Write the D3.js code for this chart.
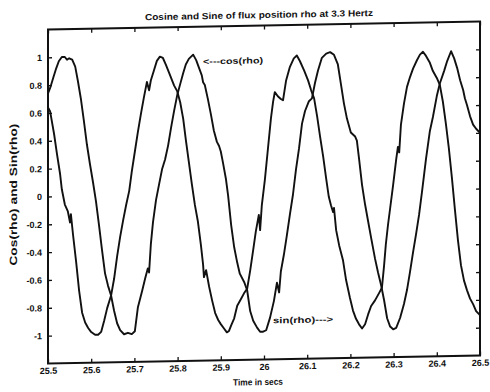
<!DOCTYPE html>
<html>
<head>
<meta charset="utf-8">
<script src="https://cdn.jsdelivr.net/npm/d3@7"></script>
<style>
body { margin: 0; background: #fff; }
text { font-family: "Liberation Sans", Arial, sans-serif; font-weight: bold; fill: #111; }
</style>
</head>
<body>
<div id="chart-area"></div>
<script>
// values
var cosTime = [25.500, 25.505, 25.512, 25.519, 25.525, 25.532, 25.539, 25.544, 25.549, 25.556,
    25.563, 25.569, 25.576, 25.583, 25.590, 25.597, 25.604, 25.611, 25.618, 25.625,
    25.632, 25.639, 25.646, 25.653, 25.660, 25.667, 25.676, 25.685, 25.694, 25.701,
    25.708, 25.718, 25.725, 25.731, 25.734, 25.738, 25.743, 25.750, 25.757, 25.764,
    25.771, 25.778, 25.785, 25.792, 25.799, 25.806, 25.813, 25.819, 25.826, 25.836,
    25.843, 25.850, 25.856, 25.859, 25.863, 25.870, 25.877, 25.884, 25.891, 25.896,
    25.900, 25.905, 25.912, 25.917, 25.924, 25.931, 25.938, 25.944, 25.954, 25.961,
    25.968, 25.975, 25.984, 25.991, 25.998, 26.005, 26.014, 26.023, 26.030, 26.035,
    26.039, 26.046, 26.053, 26.060, 26.067, 26.074, 26.081, 26.088, 26.095, 26.104,
    26.111, 26.118, 26.125, 26.134, 26.144, 26.153, 26.162, 26.171, 26.178, 26.185,
    26.192, 26.201, 26.211, 26.215, 26.220, 26.227, 26.234, 26.241, 26.248, 26.257,
    26.264, 26.271, 26.278, 26.285, 26.292, 26.299, 26.306, 26.315, 26.324, 26.331,
    26.338, 26.345, 26.352, 26.359, 26.366, 26.375, 26.384, 26.391, 26.400, 26.407,
    26.417, 26.424, 26.433, 26.440, 26.447, 26.454, 26.461, 26.465, 26.470, 26.477,
    26.484, 26.491, 26.500];
var cosValue = [0.74, 0.78, 0.85, 0.92, 0.97, 1.00, 1.00, 0.98, 0.99, 0.98,
    0.93, 0.83, 0.70, 0.54, 0.37, 0.23, 0.10, -0.04, -0.21, -0.39,
    -0.56, -0.65, -0.72, -0.83, -0.92, -0.97, -1.00, -0.99, -1.00, -0.98,
    -0.81, -0.69, -0.60, -0.53, -0.56, -0.36, -0.20, -0.04, 0.07, 0.18,
    0.25, 0.35, 0.48, 0.60, 0.71, 0.79, 0.87, 0.93, 0.97, 1.00,
    0.96, 0.90, 0.85, 0.80, 0.78, 0.68, 0.57, 0.45, 0.37, 0.34,
    0.30, 0.22, 0.10, -0.02, -0.23, -0.39, -0.50, -0.58, -0.64, -0.70,
    -0.85, -0.92, -0.97, -1.00, -1.00, -0.99, -0.90, -0.78, -0.65, -0.72,
    -0.57, -0.45, -0.31, -0.16, -0.02, 0.16, 0.31, 0.49, 0.58, 0.65,
    0.67, 0.78, 0.87, 0.96, 0.99, 1.00, 0.98, 0.91, 0.77, 0.63,
    0.52, 0.42, 0.39, 0.36, 0.23, 0.04, -0.10, -0.22, -0.34, -0.49,
    -0.59, -0.68, -0.79, -0.92, -0.98, -1.00, -0.99, -0.92, -0.82, -0.72,
    -0.59, -0.45, -0.32, -0.18, -0.01, 0.22, 0.42, 0.52, 0.67, 0.76,
    0.85, 0.92, 0.99, 0.94, 0.87, 0.78, 0.71, 0.65, 0.60, 0.52,
    0.46, 0.43, 0.40];

var sinTime = [25.500, 25.505, 25.514, 25.521, 25.528, 25.532, 25.539, 25.546, 25.551, 25.553,
    25.558, 25.565, 25.572, 25.579, 25.586, 25.593, 25.600, 25.609, 25.616, 25.623,
    25.630, 25.637, 25.646, 25.653, 25.660, 25.667, 25.674, 25.681, 25.688, 25.694,
    25.701, 25.708, 25.715, 25.722, 25.729, 25.734, 25.738, 25.745, 25.752, 25.759,
    25.766, 25.773, 25.782, 25.792, 25.799, 25.806, 25.813, 25.819, 25.826, 25.833,
    25.840, 25.847, 25.854, 25.859, 25.861, 25.866, 25.873, 25.880, 25.887, 25.894,
    25.900, 25.907, 25.914, 25.919, 25.924, 25.931, 25.938, 25.947, 25.954, 25.961,
    25.968, 25.975, 25.981, 25.988, 25.991, 25.995, 26.002, 26.009, 26.016, 26.021,
    26.025, 26.032, 26.039, 26.044, 26.051, 26.060, 26.069, 26.076, 26.083, 26.093,
    26.102, 26.109, 26.116, 26.123, 26.130, 26.137, 26.144, 26.150, 26.155, 26.160,
    26.162, 26.167, 26.174, 26.183, 26.190, 26.199, 26.206, 26.213, 26.220, 26.227,
    26.234, 26.241, 26.248, 26.257, 26.266, 26.273, 26.278, 26.282, 26.287, 26.292,
    26.299, 26.306, 26.310, 26.313, 26.317, 26.324, 26.331, 26.338, 26.345, 26.354,
    26.361, 26.368, 26.375, 26.384, 26.391, 26.400, 26.407, 26.414, 26.421, 26.428,
    26.435, 26.442, 26.449, 26.456, 26.463, 26.470, 26.477, 26.484, 26.491, 26.500];
var sinValue = [0.64, 0.61, 0.45, 0.30, 0.16, 0.05, -0.06, -0.11, -0.19, -0.13,
    -0.28, -0.47, -0.68, -0.84, -0.91, -0.95, -0.98, -1.00, -1.00, -0.98,
    -0.90, -0.81, -0.72, -0.60, -0.44, -0.30, -0.18, -0.07, 0.03, 0.17,
    0.31, 0.45, 0.58, 0.70, 0.81, 0.75, 0.82, 0.89, 0.96, 0.99,
    0.98, 0.93, 0.86, 0.78, 0.74, 0.66, 0.54, 0.39, 0.23, 0.07,
    -0.08, -0.20, -0.37, -0.51, -0.60, -0.55, -0.67, -0.77, -0.86, -0.91,
    -0.94, -0.97, -1.00, -0.99, -0.95, -0.90, -0.81, -0.76, -0.72, -0.69,
    -0.56, -0.41, -0.28, -0.16, -0.27, -0.09, 0.09, 0.31, 0.53, 0.65,
    0.72, 0.69, 0.67, 0.66, 0.80, 0.90, 0.96, 0.98, 0.94, 0.87,
    0.80, 0.73, 0.67, 0.54, 0.39, 0.25, 0.09, -0.04, -0.10, -0.15,
    -0.12, -0.28, -0.39, -0.50, -0.64, -0.77, -0.86, -0.92, -0.96, -0.99,
    -0.96, -0.89, -0.83, -0.79, -0.74, -0.70, -0.54, -0.39, -0.25, -0.13,
    0.04, 0.22, 0.31, 0.27, 0.47, 0.62, 0.74, 0.81, 0.87, 0.93,
    0.97, 0.99, 0.96, 0.91, 0.85, 0.80, 0.75, 0.63, 0.47, 0.29,
    0.08, -0.15, -0.37, -0.55, -0.66, -0.73, -0.79, -0.83, -0.88, -0.91];

var xTicks = [25.5, 25.6, 25.7, 25.8, 25.9, 26, 26.1, 26.2, 26.3, 26.4, 26.5];
var xTickLabels = ["25.5", "25.6", "25.7", "25.8", "25.9", "26", "26.1", "26.2", "26.3", "26.4", "26.5"];
var yTicks = [-1, -0.8, -0.6, -0.4, -0.2, 0, 0.2, 0.4, 0.6, 0.8, 1];
var yTickLabels = ["-1", "-0.8", "-0.6", "-0.4", "-0.2", "0", "0.2", "0.4", "0.6", "0.8", "1"];

var margin = { left: 48, right: 10, top: 25.5, bottom: 32.5 };
var width = 490 - margin.left - margin.right;
var height = 392 - margin.top - margin.bottom;

// the scan is a little skewed: right side sits higher
var root = d3.select("#chart-area")
    .append("svg")
    .attr("width", 490)
    .attr("height", 392)
    .append("g")
    .attr("transform", "translate(0," + (0.0185 * 264) + ") skewY(-1.06)");

var svg = root.append("g")
    .attr("transform", "translate(" + margin.left + ", " + margin.top + ")");

var x = d3.scaleLinear().domain([25.5, 26.5]).range([0, width]);
var y = d3.scaleLinear().domain([-1.2, 1.2]).range([height, 0]);

var xAxisCall = d3.axisBottom(x).tickValues(xTicks)
    .tickFormat((d, i) => xTickLabels[i]).tickSizeInner(-4).tickSizeOuter(0).tickPadding(4);
var yAxisCall = d3.axisLeft(y).tickValues(yTicks)
    .tickFormat((d, i) => yTickLabels[i]).tickSizeInner(-4).tickSizeOuter(0).tickPadding(6);

var xAxisGroup = svg.append("g")
    .attr("transform", "translate(0, " + height + ")")
    .call(xAxisCall);
var yAxisGroup = svg.append("g").call(yAxisCall);

svg.append("g").call(d3.axisTop(x).tickValues(xTicks).tickFormat("").tickSizeInner(-4).tickSizeOuter(0));
svg.append("g").attr("transform", "translate(" + width + ",0)")
    .call(d3.axisRight(y).tickValues(yTicks).tickFormat("").tickSizeInner(-4).tickSizeOuter(0));

svg.selectAll(".domain").remove();
svg.selectAll(".tick line").attr("stroke", "#111").attr("stroke-width", 1.3);
svg.selectAll(".tick text")
    .style("font-family", "'Liberation Sans Narrow', 'Liberation Sans', sans-serif")
    .attr("font-size", 9).attr("fill", "#111");

svg.append("rect")
    .attr("width", width)
    .attr("height", height)
    .attr("fill", "none")
    .attr("stroke", "#111")
    .attr("stroke-width", 2);

var line = d3.line()
    .x(d => x(d[0]))
    .y(d => y(d[1]));

svg.append("path")
    .datum(cosTime.map((t, i) => [t, cosValue[i]]))
    .attr("d", line)
    .attr("fill", "none")
    .attr("stroke", "#111")
    .attr("stroke-width", 1.9)
    .attr("stroke-linejoin", "round");

svg.append("path")
    .datum(sinTime.map((t, i) => [t, sinValue[i]]))
    .attr("d", line)
    .attr("fill", "none")
    .attr("stroke", "#111")
    .attr("stroke-width", 1.9)
    .attr("stroke-linejoin", "round");

svg.append("text")
    .attr("x", x(25.859))
    .attr("y", y(0.95))
    .attr("dy", "0.35em")
    .attr("font-size", 8.5)
    .attr("textLength", 60)
    .attr("lengthAdjust", "spacingAndGlyphs")
    .text("<---cos(rho)");

svg.append("text")
    .attr("x", x(26.021))
    .attr("y", y(-0.92))
    .attr("dy", "0.35em")
    .attr("font-size", 8.5)
    .attr("textLength", 60)
    .attr("lengthAdjust", "spacingAndGlyphs")
    .text("sin(rho)--->");

// title and axis labels
root.append("text")
    .attr("x", 259)
    .attr("y", 18)
    .attr("text-anchor", "middle")
    .attr("font-size", 9)
    .attr("textLength", 228)
    .attr("lengthAdjust", "spacingAndGlyphs")
    .text("Cosine and Sine of flux position rho at 3.3 Hertz");

root.append("text")
    .attr("x", 258)
    .attr("y", 385)
    .attr("text-anchor", "middle")
    .attr("font-size", 9)
    .attr("textLength", 50)
    .attr("lengthAdjust", "spacingAndGlyphs")
    .text("Time in secs");

root.append("text")
    .attr("transform", "translate(17, 190) rotate(-90)")
    .attr("text-anchor", "middle")
    .attr("font-size", 10.5)
    .attr("textLength", 142)
    .attr("lengthAdjust", "spacingAndGlyphs")
    .text("Cos(rho) and Sin(rho)");
</script>
</body>
</html>
